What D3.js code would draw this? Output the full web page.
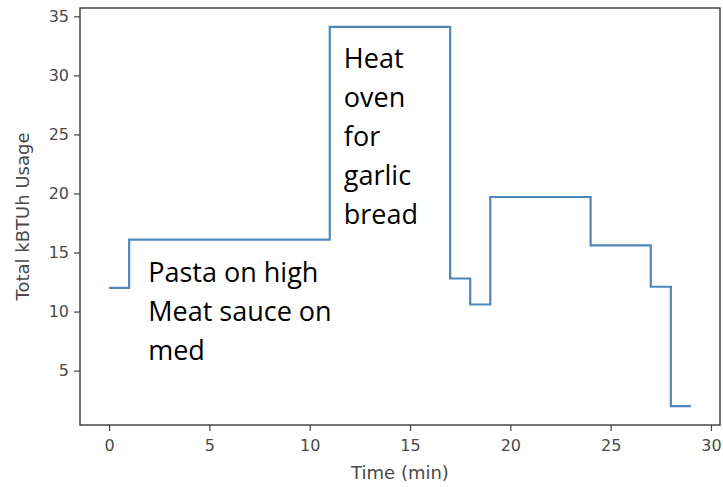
<!DOCTYPE html>
<html>
<head>
<meta charset="utf-8">
<script src="https://cdn.jsdelivr.net/npm/d3@7"></script>
<style>
  body { margin: 0; background: #fff; }
  .tick text { font-family: "DejaVu Sans", sans-serif; font-size: 16px; fill: #4a4a4a; }
  .tick line { stroke: #444; stroke-width: 1.2; }
  .note { font-family: "Open Sans", sans-serif; font-size: 27px; fill: #000; }
  .axis-label { font-family: "DejaVu Sans", sans-serif; font-size: 18px; fill: #4a4a4a; }
</style>
</head>
<body>
<div id="chart"></div>
<script>
// 每分钟的用量 (step after)
const minutes = [0, 1, 2, 3, 4, 5, 6, 7, 8, 9, 10, 11, 12, 13, 14, 15, 16, 17, 18, 19, 20, 21, 22, 23, 24, 25, 26, 27, 28, 29];
const usage = [12, 16.1, 16.1, 16.1, 16.1, 16.1, 16.1, 16.1, 16.1, 16.1, 16.1, 34.1, 34.1, 34.1, 34.1, 34.1, 34.1, 12.8, 10.6, 19.7, 19.7, 19.7, 19.7, 19.7, 15.6, 15.6, 15.6, 12.1, 2, 2];
const xTicks = [0, 5, 10, 15, 20, 25, 30];
const yTicks = [5, 10, 15, 20, 25, 30, 35];
const notes = [
    {x: 1.95, y: 12.5, lines: ["Pasta on high", "Meat sauce on", "med"]},
    {x: 11.7, y: 30.65, lines: ["Heat", "oven", "for", "garlic", "bread"]}
];

const data = minutes.map((m, i) => ({t: m, v: usage[i]}));

// 画布
const W = 723, H = 487;
const margin = {top: 8, right: 3, bottom: 62, left: 80},
    width = W - margin.left - margin.right,
    height = H - margin.top - margin.bottom;

const svg = d3.select("#chart").append("svg")
    .attr("width", W)
    .attr("height", H);

const g = svg.append("g")
    .attr("transform", `translate(${margin.left},${margin.top})`);

// 比例尺 (matplotlib 默认 5% 边距)
const xPad = (d3.max(minutes) - d3.min(minutes)) * 0.05;
const x = d3.scaleLinear()
    .domain([d3.min(minutes) - xPad, d3.max(minutes) + xPad])
    .range([0, width]);
const yPad = (d3.max(usage) - d3.min(usage)) * 0.05;
const y = d3.scaleLinear()
    .domain([d3.min(usage) - yPad, d3.max(usage) + yPad])
    .range([height, 0]);

// 坐标轴
const xAxis = g.append("g")
    .attr("transform", `translate(0,${height})`)
    .call(d3.axisBottom(x).tickValues(xTicks).tickSize(6).tickPadding(9));
xAxis.select(".domain").remove();

const yAxis = g.append("g")
    .call(d3.axisLeft(y).tickValues(yTicks).tickSize(6).tickPadding(5));
yAxis.select(".domain").remove();

// 折线
const line = d3.line()
    .x(d => x(d.t))
    .y(d => y(d.v))
    .curve(d3.curveStepAfter);

g.append("path")
    .datum(data)
    .attr("fill", "none")
    .attr("stroke", "#4f87bb")
    .attr("stroke-width", 2.2)
    .attr("d", line);

// 边框
g.append("rect")
    .attr("width", width)
    .attr("height", height)
    .attr("fill", "none")
    .attr("stroke", "#3a3a3a")
    .attr("stroke-width", 1.4);

// 注释文字
notes.forEach(n => {
    const t = g.append("text")
        .attr("class", "note")
        .attr("x", x(n.x))
        .attr("y", y(n.y));
    n.lines.forEach((s, i) => {
        t.append("tspan")
            .attr("x", x(n.x))
            .attr("dy", i === 0 ? 0 : 39)
            .text(s);
    });
});

// 轴标题
svg.append("text")
    .attr("class", "axis-label")
    .attr("text-anchor", "middle")
    .attr("x", margin.left + width / 2)
    .attr("y", 479)
    .text("Time (min)");

svg.append("text")
    .attr("class", "axis-label")
    .attr("text-anchor", "middle")
    .attr("transform", `translate(29,${margin.top + height / 2}) rotate(-90)`)
    .text("Total kBTUh Usage");
</script>
</body>
</html>
